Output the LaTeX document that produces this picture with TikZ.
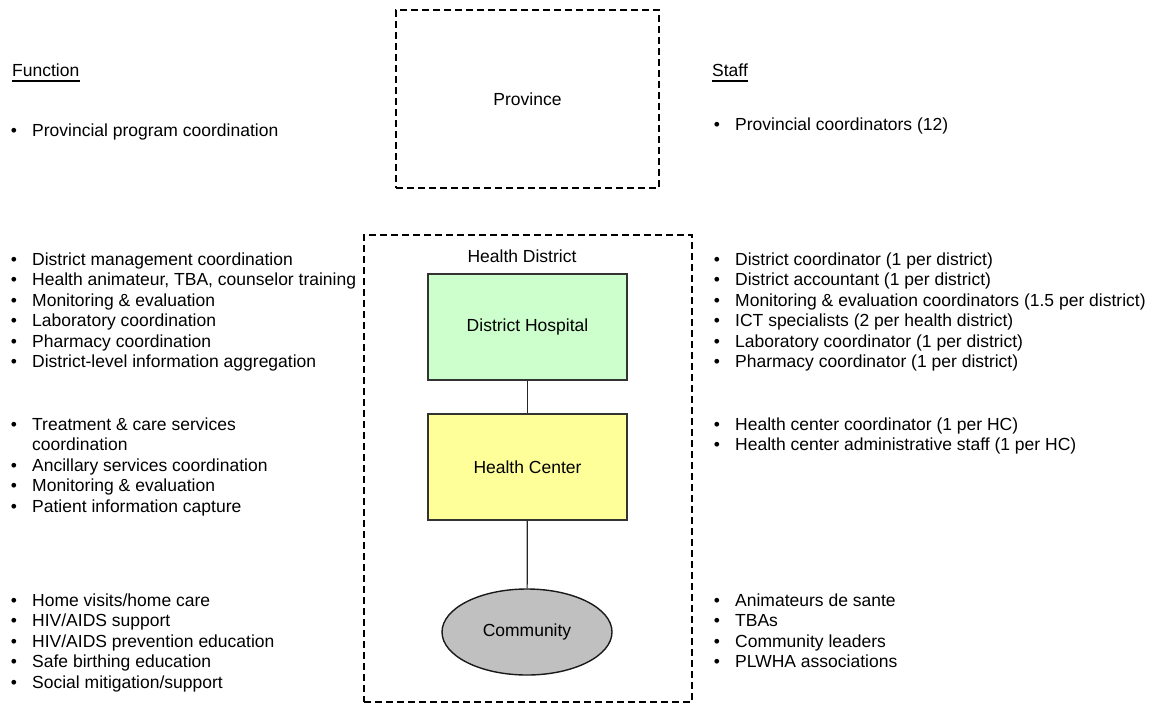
\documentclass[tikz,border=0pt]{standalone}
\usepackage{fontspec}
\setmainfont{Liberation Sans}
\usetikzlibrary{shapes.geometric}
\newcommand\mainsz{\fontsize{17.5}{20}\selectfont}
\begin{document}
\begin{tikzpicture}[x=1pt,y=-1pt,
  txt/.style={font=\mainsz, inner sep=0pt, anchor=base west},
  bul/.style={font=\mainsz, inner sep=0pt, anchor=base},
  dbox/.style={draw=black, line width=2.5pt, dash pattern=on 7pt off 4pt},
  lvl/.style={draw=black!80, line width=1.4pt, minimum width=199pt, minimum height=106pt, font=\mainsz},
  conn/.style={draw=black!85, line width=1.2pt}
]
\useasboundingbox (0,0) rectangle (1156,704);
\newcommand\bline[4]{%
  \node[bul] (#1b) at (#2,#3) {•};
  \node[txt] (#1) at (#2+18,#3) {#4};}

% containers
\node[dbox, minimum width=263pt, minimum height=178pt, font=\mainsz] (prov) at (527.5,99) {Province};
\node[dbox, minimum width=328pt, minimum height=467pt] (hd) at (528,468.5) {};
\node[font=\mainsz, inner sep=0pt] (hdl) at (522,256) {Health District};

% levels
\node[lvl, fill={rgb,255:red,204;green,255;blue,204}] (hosp) at (527.5,327) {District Hospital};
\node[lvl, fill={rgb,255:red,255;green,255;blue,153}] (hc) at (527.5,467) {Health Center};
\node[draw=black!90, line width=1.4pt, ellipse, minimum width=170pt, minimum height=86pt,
      fill={rgb,255:red,192;green,192;blue,192}, font=\mainsz, inner sep=0pt] (comm) at (527,632) {Community};
\draw[conn] (hosp) -- (hc);
\draw[conn] (hc) -- (comm);

% headings
\node[txt] (fn) at (12,76) {Function};
\draw[line width=1.3pt] ([yshift=-5pt]fn.base west) -- ([yshift=-5pt]fn.base east);
\node[txt] (st) at (712,76) {Staff};
\draw[line width=1.3pt] ([yshift=-5pt]st.base west) -- ([yshift=-5pt]st.base east);

% left: functions
\bline{f1}{14}{136}{Provincial program coordination}
\bline{f2}{14}{265}{District management coordination}
\bline{f3}{14}{285.5}{Health animateur, TBA, counselor training}
\bline{f4}{14}{306}{Monitoring \& evaluation}
\bline{f5}{14}{326.5}{Laboratory coordination}
\bline{f6}{14}{347}{Pharmacy coordination}
\bline{f7}{14}{367.5}{District-level information aggregation}
\bline{f8}{14}{430}{Treatment \& care services}
\node[txt] (f8b2) at (32,450.5) {coordination};
\bline{f9}{14}{471}{Ancillary services coordination}
\bline{f10}{14}{491.5}{Monitoring \& evaluation}
\bline{f11}{14}{512}{Patient information capture}
\bline{f12}{14}{606}{Home visits/home care}
\bline{f13}{14}{626.5}{HIV/AIDS support}
\bline{f14}{14}{647}{HIV/AIDS prevention education}
\bline{f15}{14}{667.5}{Safe birthing education}
\bline{f16}{14}{688}{Social mitigation/support}

% right: staff
\bline{s1}{717}{130}{Provincial coordinators (12)}
\bline{s2}{717}{265}{District coordinator (1 per district)}
\bline{s3}{717}{285.5}{District accountant (1 per district)}
\bline{s4}{717}{306}{Monitoring \& evaluation coordinators (1.5 per district)}
\bline{s5}{717}{326.5}{ICT specialists (2 per health district)}
\bline{s6}{717}{347}{Laboratory coordinator (1 per district)}
\bline{s7}{717}{367.5}{Pharmacy coordinator (1 per district)}
\bline{s8}{717}{430}{Health center coordinator (1 per HC)}
\bline{s9}{717}{450.5}{Health center administrative staff (1 per HC)}
\bline{s10}{717}{606}{Animateurs de sante}
\bline{s11}{717}{626.5}{TBAs}
\bline{s12}{717}{647}{Community leaders}
\bline{s13}{717}{667.5}{PLWHA associations}
\end{tikzpicture}
\end{document}
